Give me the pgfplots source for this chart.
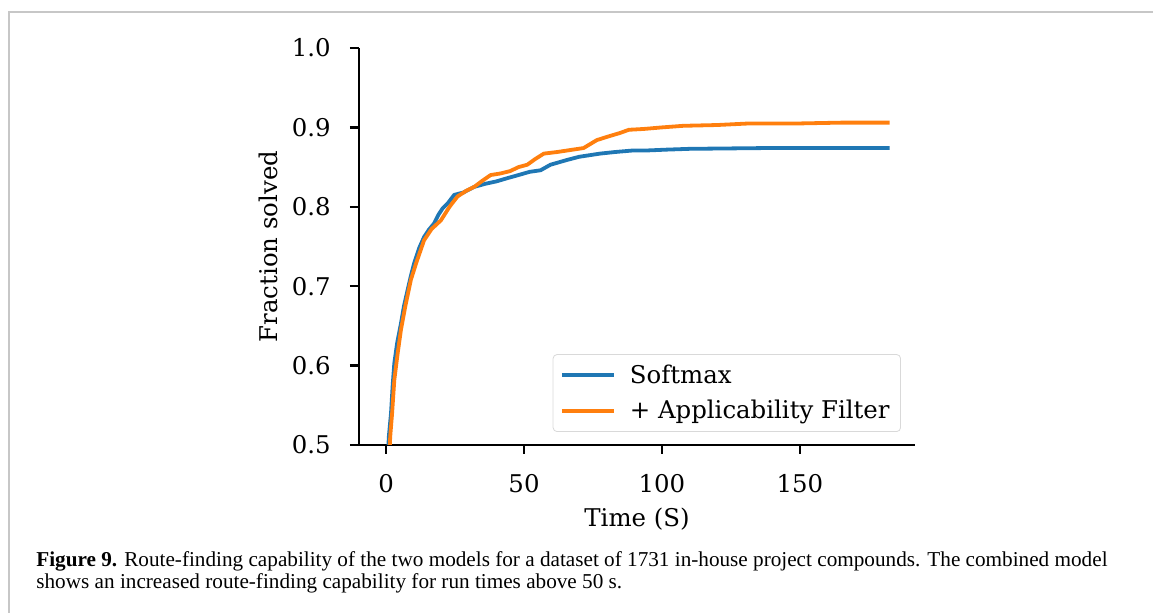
\documentclass[border=0pt]{standalone}
\usepackage{fontspec}
\setmainfont{DejaVu Serif}
\newfontfamily\capfont{Liberation Serif}
\usepackage{pgfplots}
\pgfplotsset{compat=1.18}
\definecolor{tabblue}{HTML}{1F77B4}
\definecolor{taborange}{HTML}{FF7F0E}
\pgfplotstableread{
t y
0.4 0.46
1.0 0.510
1.8 0.540
2.4 0.575
3.0 0.603
4.0 0.628
5.4 0.653
6.5 0.675
7.8 0.695
9.0 0.713
10.2 0.729
12.0 0.748
13.8 0.762
15.5 0.771
17.4 0.779
19.0 0.790
20.5 0.798
22.5 0.805
24.7 0.815
28 0.818
31.9 0.825
36 0.829
40 0.832
43.9 0.836
48 0.840
52 0.844
56 0.846
59.6 0.853
65.6 0.859
70 0.863
77.6 0.867
83 0.869
89.7 0.871
95 0.871
101.7 0.872
110 0.873
137.8 0.874
182.5 0.874
}\softmax
\pgfplotstableread{
t y
1.0 0.46
1.5 0.510
2.2 0.540
3.0 0.582
4.2 0.615
5.4 0.645
7.0 0.675
9.0 0.708
11.0 0.730
13.8 0.758
16.5 0.772
19.9 0.783
23 0.800
25.9 0.813
29 0.820
31.9 0.825
35 0.833
37.9 0.840
41.5 0.842
45 0.845
48 0.850
51.2 0.853
54 0.860
57.2 0.867
62 0.869
71.6 0.874
76.4 0.884
80 0.888
84.8 0.893
88 0.897
93.3 0.898
100 0.900
107.7 0.902
120 0.903
131.8 0.905
150 0.905
165 0.906
182.5 0.906
}\filter
\begin{document}
\begin{tikzpicture}
\useasboundingbox (0,0) rectangle (576.5pt,-306.5pt);
\draw[line width=1pt, black!22] (4.5pt,-306.5pt) -- (4.5pt,-6pt) -- (576.5pt,-6pt);
\begin{axis}[
  at={(179.5pt,-222.5pt)}, anchor=south west,
  scale only axis, width=278pt, height=198.5pt,
  xmin=-9.8, xmax=191.7, ymin=0.5, ymax=1.0,
  axis x line*=bottom, axis y line*=left,
  axis line style={line width=1.2pt, -},
  every tick/.style={black, line width=1.1pt},
  tick align=outside, major tick length=4.5pt,
  xtick={0,50,100,150}, ytick={0.5,0.6,0.7,0.8,0.9,1.0},
  /pgf/number format/assume math mode=true,
  yticklabel style={/pgf/number format/fixed, /pgf/number format/fixed zerofill, /pgf/number format/precision=1, anchor=east, inner sep=0pt, xshift=-9.5pt},
  xticklabel style={anchor=center, inner sep=0pt, yshift=-15pt},
  tick label style={font=\fontsize{12.2}{14}\selectfont},
  label style={font=\fontsize{12.2}{14}\selectfont},
  xlabel={Time (S)}, ylabel={Fraction solved},
  xlabel style={at={(axis description cs:0.5,-0.1864)}, anchor=center, inner sep=0pt},
  ylabel style={at={(axis description cs:-0.1637,0.5)}, anchor=center, inner sep=0pt},
  legend cell align=left,
  legend style={at={(1,0)}, anchor=south east, xshift=-7pt, yshift=6.5pt,
    draw=black!15, rounded corners=2pt, fill=white, fill opacity=0.8, text opacity=1,
    font=\fontsize{12.2}{14}\selectfont, inner xsep=3.5pt, inner ysep=3pt, row sep=3pt},
  legend image code/.code={\draw[#1] (0pt,0pt) -- (26pt,0pt);},
  /tikz/every odd column/.append style={column sep=5pt},
]
\addplot[tabblue, line width=1.9pt, line join=round] table[x=t,y=y] {\softmax};
\addlegendentry{Softmax}
\addplot[taborange, line width=1.9pt, line join=round] table[x=t,y=y] {\filter};
\addlegendentry{+ Applicability Filter}
\end{axis}
\node[anchor=base west, inner sep=0pt, font=\capfont\fontsize{10.6}{12}\selectfont] at (18pt,-283.3pt) {\textbf{Figure 9.} Route-finding capability of the two models for a dataset of 1731 in-house project compounds. The combined model};
\node[anchor=base west, inner sep=0pt, font=\capfont\fontsize{10.6}{12}\selectfont] at (18pt,-294.5pt) {shows an increased route-finding capability for run times above 50 s.};
\end{tikzpicture}
\end{document}
